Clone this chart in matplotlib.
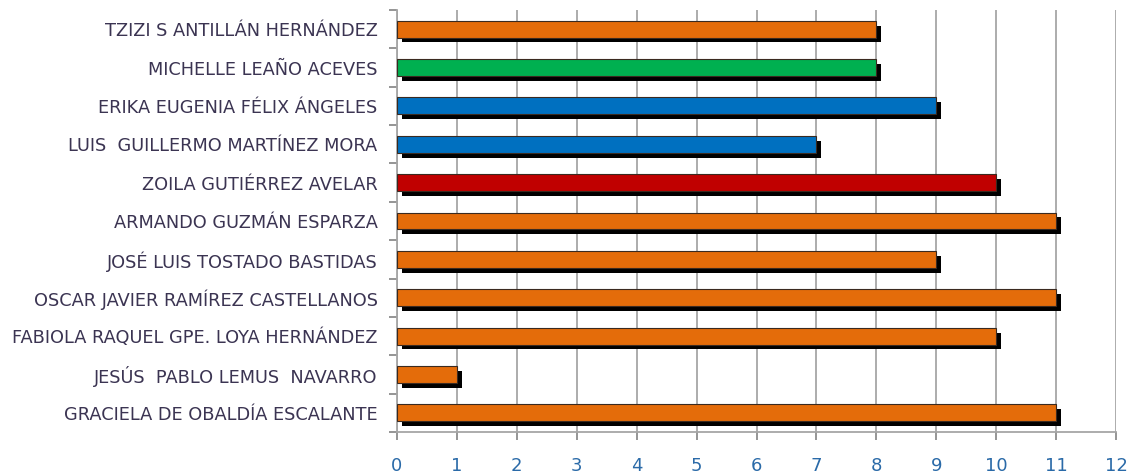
import matplotlib.pyplot as plt
import matplotlib.patheffects as pe
from matplotlib.ticker import MultipleLocator

# Nombres de arriba hacia abajo
nombres = [
    'TZIZI S ANTILLÁN HERNÁNDEZ',
    'MICHELLE LEAÑO ACEVES',
    'ERIKA EUGENIA FÉLIX ÁNGELES',
    'LUIS  GUILLERMO MARTÍNEZ MORA',
    'ZOILA GUTIÉRREZ AVELAR',
    'ARMANDO GUZMÁN ESPARZA',
    'JOSÉ LUIS TOSTADO BASTIDAS',
    'OSCAR JAVIER RAMÍREZ CASTELLANOS',
    'FABIOLA RAQUEL GPE. LOYA HERNÁNDEZ',
    'JESÚS  PABLO LEMUS  NAVARRO',
    'GRACIELA DE OBALDÍA ESCALANTE',
]
valores = [8, 8, 9, 7, 10, 11, 9, 11, 10, 1, 11]
colores = ['#E46C0A', '#00B050', '#0070C0', '#0070C0', '#C00000', '#E46C0A',
           '#E46C0A', '#E46C0A', '#E46C0A', '#E46C0A', '#E46C0A']

fig = plt.figure(figsize=(11.32, 4.74), dpi=100)
ax = fig.add_axes([0.3507, 0.0886, 0.6352, 0.8904])

posiciones = list(range(len(nombres)))
sombra = [pe.SimplePatchShadow(offset=(3.5, -3.5), shadow_rgbFace='black', alpha=1), pe.Normal()]
barras = ax.barh(posiciones, valores, height=0.44, color=colores,
                 edgecolor='#3a2a20', linewidth=0.8, zorder=3)
for b in barras:
    b.set_path_effects(sombra)

ax.set_xlim(0, 12)
ax.set_ylim(len(nombres) - 0.5, -0.5)
ax.xaxis.set_major_locator(MultipleLocator(1))
ax.grid(axis='x', color='#a6a6a6', linewidth=1.3, zorder=0)
ax.set_axisbelow(True)

# Marcas del eje Y entre categorías
ax.set_yticks(posiciones)
ax.set_yticklabels(nombres, fontsize=12.8, color='#3b3452', family='DejaVu Sans')
ax.set_yticks([p - 0.5 for p in posiciones] + [len(nombres) - 0.5], minor=True)
ax.tick_params(axis='y', which='major', length=0, pad=14)
ax.tick_params(axis='y', which='minor', length=6, color='#8c8c8c', width=1.3)
ax.tick_params(axis='x', length=6, color='#8c8c8c', width=1.3,
               labelsize=13, labelcolor='#2a6aa8', pad=12)

for s in ['top', 'right']:
    ax.spines[s].set_visible(False)
for s in ['left', 'bottom']:
    ax.spines[s].set_color('#a6a6a6')
    ax.spines[s].set_linewidth(1.3)

plt.savefig('out.png')
